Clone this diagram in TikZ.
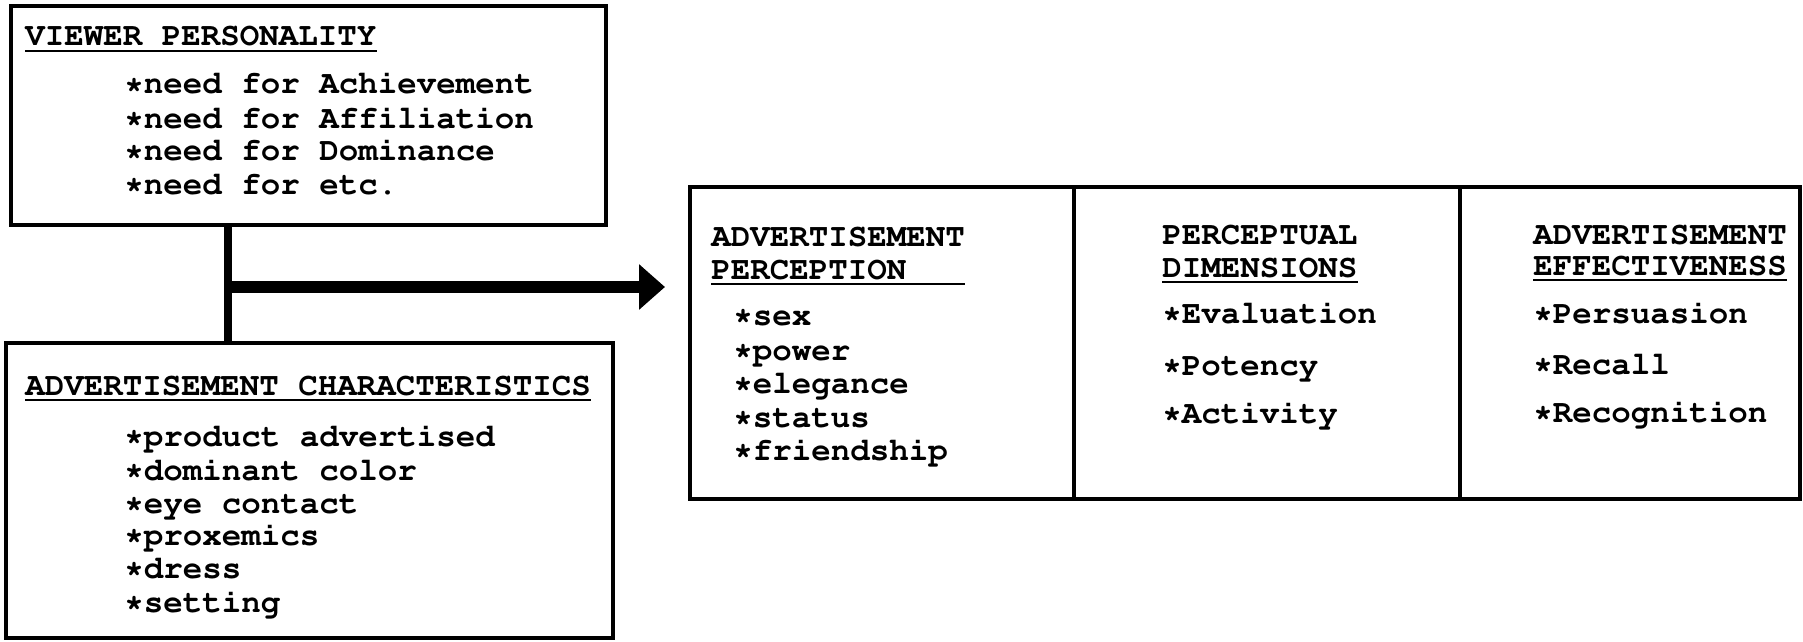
\documentclass[tikz,border=0pt]{standalone}
\usepackage[T1]{fontenc}
\usepackage{courier}
\usetikzlibrary{arrows.meta,positioning}

\tikzset{
  panel/.style={draw, line width=1.7pt, inner sep=0pt, outer sep=0pt},
  txt/.style={font=\ttfamily\bfseries\fontsize{16.25}{16.7}\selectfont, inner sep=0pt, anchor=base west},
  uline/.style={line width=1.2pt},
  stemline/.style={line width=4pt},
  feed/.style={line width=6pt, -{Triangle[length=13pt, width=22pt]}},
}

\begin{document}
\begin{tikzpicture}[x=0.5pt, y=-0.5pt]
  \useasboundingbox (0,0) rectangle (1803,642);

  % left side: the two input boxes
  \node[panel, minimum width=297.5pt, minimum height=109.5pt, anchor=north west] (vp) at (11,6) {};
  \node[panel, minimum width=303.5pt, minimum height=147.5pt, anchor=north west] (ac) at (6,343) {};

  \node[txt] (vpt) at (25,46) {VIEWER PERSONALITY};
  \draw[uline] ([yshift=-2.5pt]vpt.base west) -- ([yshift=-2.5pt]vpt.base east);
  \foreach \y/\t [count=\i] in {94/need for Achievement, 128/need for Affiliation,
      161/need for Dominance, 194/need for etc.}
    \node[txt] (vp\i) at (124,\y) {*\t};

  \node[txt] (act) at (25,395) {ADVERTISEMENT CHARACTERISTICS};
  \draw[uline] ([yshift=-2.5pt]act.base west) -- ([yshift=-2.5pt]act.base east);
  \foreach \y/\t [count=\i] in {446/product advertised, 480/dominant color, 513/eye contact,
      545/proxemics, 578/dress, 612/setting}
    \node[txt] (ac\i) at (124,\y) {*\t};

  % joint influence
  \coordinate (stem) at (228,287);
  \coordinate (tip) at (665,287);
  \draw[stemline] (vp.south -| stem) -- (ac.north -| stem);
  \draw[feed] (stem) -- (tip);

  % right side: three columns
  \node[panel, minimum width=192pt, minimum height=156pt, anchor=north west] (ap) at (690,187) {};
  \node[panel, minimum width=193pt, minimum height=156pt, right=0pt of ap] (pd) {};
  \node[panel, minimum width=170pt, minimum height=156pt, right=0pt of pd] (ae) {};

  % advertisement perception
  \node[txt] (apt1) at (711,246) {ADVERTISEMENT};
  \node[txt] (apt2) at (711,279) {PERCEPTION};
  \draw[uline] ([yshift=-2.5pt]apt2.base west) -- ([yshift=-2.5pt]apt2.base west -| apt1.east);
  \foreach \y/\t [count=\i] in {325/sex, 360/power, 393/elegance, 427/status, 460/friendship}
    \node[txt] (ap\i) at (733,\y) {*\t};

  % perceptual dimensions
  \node[txt] (pdt1) at (1162,244) {PERCEPTUAL};
  \node[txt] (pdt2) at (1162,277) {DIMENSIONS};
  \draw[uline] ([yshift=-2.5pt]pdt2.base west) -- ([yshift=-2.5pt]pdt2.base east);
  \foreach \y/\t [count=\i] in {323/Evaluation, 375/Potency, 423/Activity}
    \node[txt] (pd\i) at (1162,\y) {*\t};

  % advertisement effectiveness
  \node[txt] (aet1) at (1533,244) {ADVERTISEMENT};
  \node[txt] (aet2) at (1533,275) {EFFECTIVENESS};
  \draw[uline] ([yshift=-2.5pt]aet2.base west) -- ([yshift=-2.5pt]aet2.base east);
  \foreach \y/\t [count=\i] in {323/Persuasion, 374/Recall, 422/Recognition}
    \node[txt] (ae\i) at (1533,\y) {*\t};
\end{tikzpicture}
\end{document}
